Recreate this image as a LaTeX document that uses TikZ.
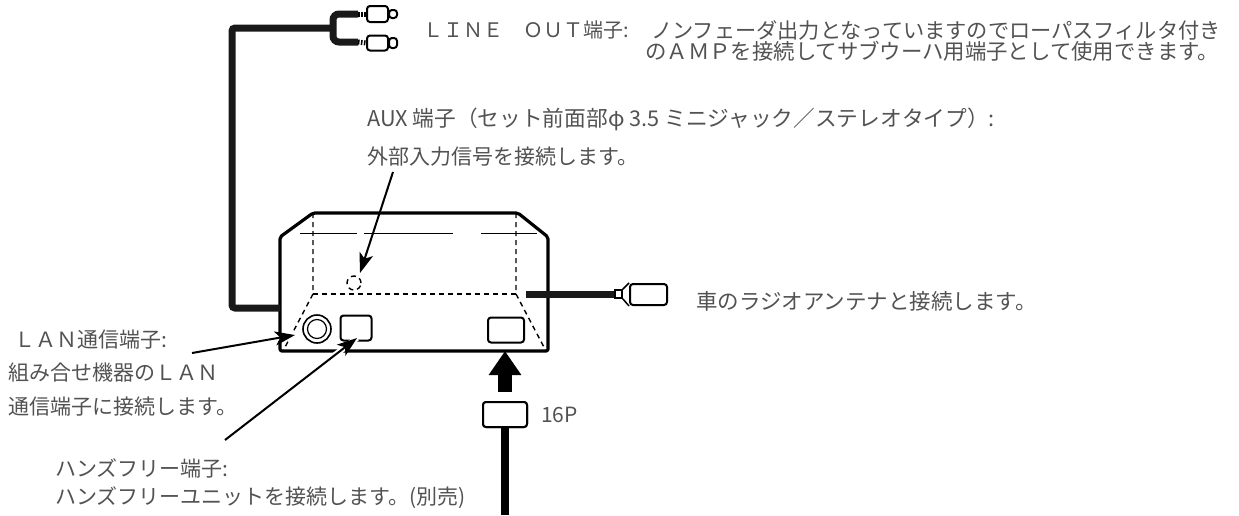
\documentclass[tikz,border=0pt]{standalone}
\usepackage{fontspec}
\newfontfamily\jpfont{Noto Sans CJK JP}
\usetikzlibrary{positioning,arrows.meta}
\begin{document}
\begin{tikzpicture}[x=1pt,y=-1pt,
    lbl/.style = {anchor=west, inner sep=0pt, text=black!68, font=\jpfont\fontsize{21}{24}\selectfont},
    port/.style = {draw, line width=2pt, rounded corners=3pt, inner sep=0pt},
    cable/.style = {line width=7pt, black!90},
    wall/.style = {line width=3.2pt, line join=round, rounded corners=2pt},
    hidden/.style = {line width=1.4pt, dash pattern=on 5pt off 4pt},
    leader/.style = {-{Stealth[length=20pt,width=14pt,inset=5pt]}, line width=2pt},
    halo/.style = {white, line width=6pt}]
        \useasboundingbox (0,0) rectangle (1239,515);
        % set body
        \coordinate (tl) at (313,213);
        \coordinate (tr) at (518,213);
        \coordinate (fl) at (313,294);
        \coordinate (fr) at (516,294);
        \coordinate (bl) at (283,351);
        \coordinate (br) at (546,351);
        \draw[hidden] (tl) -- (fl) -- (bl);
        \draw[hidden] (516,213) -- (fr) -- (br);
        \draw[hidden] (fl) -- (fr);
        \draw[line width=1pt, dash pattern=on 57pt off 7pt on 89pt off 28pt on 56pt] (300,233) -- (537,233);
        \draw[wall] (tl) -- (tr) -- (548,237) -- (548,351) -- (280,351) -- (280,237) -- cycle;
        \coordinate (lineout) at (280,308);
        \coordinate (antout) at (526,294);
        \coordinate (bottom) at (505,351);
        % ports
        \node[draw, circle, line width=1.6pt, minimum size=28pt, inner sep=0pt] (jack) at (317,329) {};
        \node[draw, circle, line width=1.2pt, minimum size=19pt, inner sep=0pt] at (jack) {};
        \node[port, minimum width=31pt, minimum height=25pt] (hands) at (356,328) {};
        \node[port, minimum width=36pt, minimum height=25pt] (main) at (506,330) {};
        \node[draw, circle, hidden, minimum size=14pt, inner sep=0pt] (aux) at (354,283) {};
        % line out
        \node[port, minimum width=21pt, minimum height=16pt] (rcaa) at (377.5,14) {};
        \node[port, minimum width=21pt, minimum height=15pt] (rcab) at (377.5,43) {};
        \node[port, minimum width=8pt, minimum height=8pt, right=-1pt of rcaa] (tipa) {};
        \node[port, minimum width=8pt, minimum height=10pt, right=-1pt of rcab] (tipb) {};
        \coordinate (fork) at (333,28);
        \coordinate (bend) at (232,28);
        \draw[cable, rounded corners=6pt] (358,14) -| (fork) |- (358,42);
        \draw[cable, rounded corners=3pt] (fork) -- (bend) |- (lineout);
        \draw[line width=5pt, dash pattern=on 1.5pt off 1.5pt] (358,14) -- (rcaa.west);
        \draw[line width=5pt, dash pattern=on 1.5pt off 1.5pt] (358,42) -- (rcab.west);
        % antenna
        \node[port, minimum width=37pt, minimum height=21pt] (ant) at (648.5,294.5) {};
        \node[draw, line width=1.5pt, minimum width=7pt, minimum height=8pt, inner sep=0pt] (neck) at (618.5,294) {};
        \draw[line width=1.5pt] (neck.north east) -- (ant.north west);
        \draw[line width=1.5pt] (neck.south east) -- (ant.south west);
        \draw[cable] (antout) -- (neck);
        % 16P
        \node[port, minimum width=44pt, minimum height=25pt] (plug) at (505,414.5) {};
        \coordinate (cableend) at (505,515);
        \draw[line width=8pt] (plug) -- (cableend);
        \node[port, fill=white, minimum width=44pt, minimum height=25pt] at (plug) {};
        \draw[line width=14pt, -{Triangle[length=24pt,width=31pt]}, shorten <=9pt] (plug.north) -- (bottom);
        \node[lbl, right=13pt of plug] (sixteen) {16P};
        % labels
        \node[lbl, font=\jpfont\fontsize{20}{24}\selectfont] (lineoutl) at (423,30) {ＬＩＮＥ　ＯＵＴ端子:};
        \node[lbl, font=\jpfont\fontsize{21.2}{24}\selectfont] (lineoutm) at (651,30) {ノンフェーダ出力となっていますのでローパスフィルタ付き};
        \node[lbl, font=\jpfont\fontsize{21.4}{24}\selectfont] (lineoutn) at (645,51) {のＡＭＰを接続してサブウーハ用端子として使用できます。};
        \node[lbl, font=\jpfont\fontsize{21.7}{24}\selectfont] (auxa) at (367,119) {AUX 端子（セット前面部φ 3.5 ミニジャック／ステレオタイプ）:};
        \node[lbl] (auxb) at (367,157) {外部入力信号を接続します。};
        \node[lbl, font=\jpfont\fontsize{21.5}{24}\selectfont] (antl) at (696,301) {車のラジオアンテナと接続します。};
        \node[lbl] (lana) at (14,340) {ＬＡＮ通信端子:};
        \node[lbl] (lanb) at (8,373) {組み合せ機器のＬＡＮ};
        \node[lbl] (lanc) at (8,407) {通信端子に接続します。};
        \node[lbl] (handa) at (55,468) {ハンズフリー端子:};
        \node[lbl] (handb) at (55,498) {ハンズフリーユニットを接続します。(別売)};
        % leaders
        \coordinate (auxfrom) at (393,172);
        \coordinate (lanfrom) at (192,353);
        \coordinate (handfrom) at (225,440);
        \coordinate (lanto) at (295,335);
        \coordinate (handto) at (357,338);
        \draw[halo] (lanfrom) -- (lanto);
        \draw[halo] (handfrom) -- (handto);
        \draw[leader] (auxfrom) -- (360,273);
        \draw[leader] (lanfrom) -- (lanto);
        \draw[leader] (handfrom) -- (handto);
      \end{tikzpicture}
\end{document}
